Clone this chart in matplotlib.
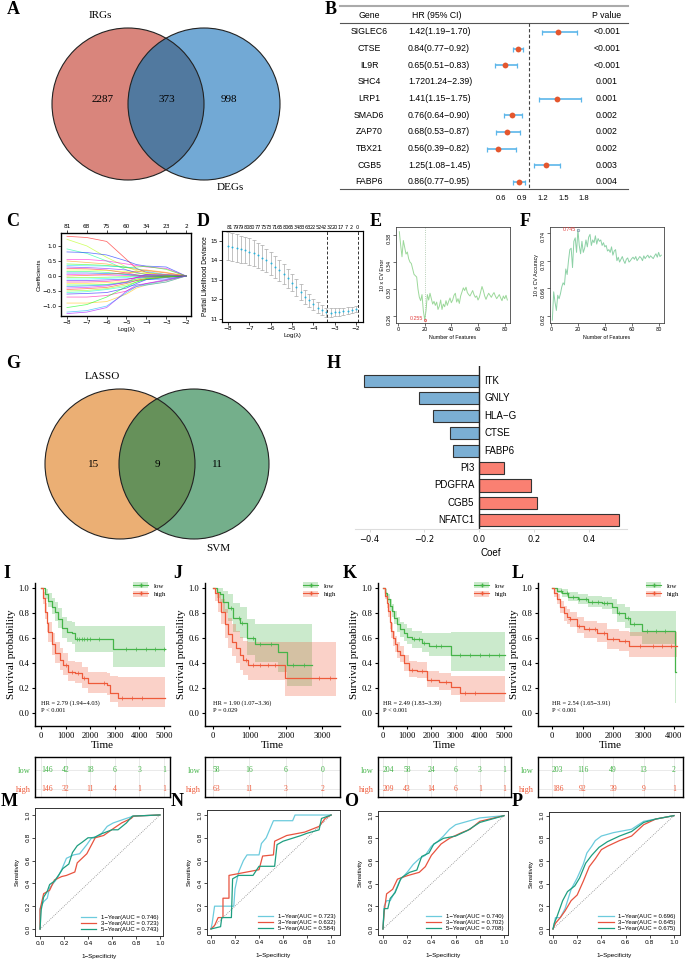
import numpy as np
import matplotlib
matplotlib.use("Agg")
import matplotlib.pyplot as plt
from matplotlib.patches import Circle, Patch
from matplotlib.lines import Line2D

W, H = 685, 964
SERIF = "Liberation Serif"
SANS = "Liberation Sans"

# ---------------- data ----------------
# A: venn
venn_a_names = ["IRGs", "DEGs"]
venn_a_counts = [2287, 373, 998]

# B: univariate cox
genes_b = ["SIGLEC6", "CTSE", "IL9R", "SHC4", "LRP1", "SMAD6", "ZAP70", "TBX21", "CGB5", "FABP6"]
hr_b = [1.42, 0.84, 0.65, 1.72, 1.41, 0.76, 0.68, 0.56, 1.25, 0.86]
lo_b = [1.19, 0.77, 0.51, 1.24, 1.15, 0.64, 0.53, 0.39, 1.08, 0.77]
hi_b = [1.70, 0.92, 0.83, 2.39, 1.75, 0.90, 0.87, 0.82, 1.45, 0.95]
hr_txt_b = ["1.42(1.19\u22121.70)", "0.84(0.77\u22120.92)", "0.65(0.51\u22120.83)", "1.7201.24\u22122.39)",
            "1.41(1.15\u22121.75)", "0.76(0.64\u22120.90)", "0.68(0.53\u22120.87)", "0.56(0.39\u22120.82)",
            "1.25(1.08\u22121.45)", "0.86(0.77\u22120.95)"]
p_b = ["<0.001", "<0.001", "<0.001", "0.001", "0.001", "0.002", "0.002", "0.002", "0.003", "0.004"]

# C: lasso coefficient paths
lam_c = [-8, -7, -6, -5, -4.5, -4, -3, -2]
coef_paths = [
    [1.32, 1.28, 1.15, 0.55, 0.25, 0.12, 0.04, 0],
    [1.22, 1.00, 0.62, 0.30, 0.18, 0.10, 0.03, 0],
    [0.90, 0.75, 0.50, 0.20, 0.10, 0.05, 0.02, 0],
    [0.80, 0.78, 0.70, 0.50, 0.38, 0.33, 0.30, 0],
    [0.55, 0.55, 0.50, 0.40, 0.35, 0.30, 0.25, 0],
    [0.50, 0.45, 0.40, 0.28, 0.22, 0.20, 0.12, 0],
    [0.40, 0.38, 0.35, 0.28, 0.30, 0.32, 0.22, 0],
    [0.35, 0.34, 0.33, 0.30, 0.25, 0.15, 0.05, 0],
    [0.30, 0.28, 0.25, 0.20, 0.12, 0.05, 0.00, 0],
    [0.25, 0.24, 0.20, 0.10, 0.04, 0.00, 0.00, 0],
    [0.20, 0.20, 0.18, 0.15, 0.10, 0.08, 0.05, 0],
    [0.15, 0.15, 0.12, 0.05, 0.00, 0.00, 0.00, 0],
    [0.10, 0.10, 0.08, 0.06, 0.03, 0.00, 0.00, 0],
    [0.05, 0.04, 0.03, 0.02, 0.01, 0.00, 0.00, 0],
    [0.00, 0.02, 0.05, 0.10, 0.15, 0.18, 0.10, 0],
    [-0.05, -0.05, -0.04, -0.02, 0.00, 0.00, 0.00, 0],
    [-0.10, -0.10, -0.08, -0.05, -0.02, 0.00, 0.00, 0],
    [-0.15, -0.15, -0.13, -0.10, -0.06, -0.04, -0.02, 0],
    [-0.20, -0.20, -0.18, -0.12, -0.05, 0.00, 0.00, 0],
    [-0.25, -0.25, -0.22, -0.18, -0.12, -0.10, -0.05, 0],
    [-0.30, -0.30, -0.28, -0.20, -0.10, -0.05, 0.00, 0],
    [-0.35, -0.33, -0.30, -0.22, -0.15, -0.12, -0.10, 0],
    [-0.40, -0.38, -0.33, -0.20, -0.05, 0.05, 0.05, 0],
    [-0.45, -0.42, -0.38, -0.25, -0.15, -0.08, -0.02, 0],
    [-0.50, -0.48, -0.42, -0.30, -0.20, -0.10, -0.03, 0],
    [-0.55, -0.52, -0.45, -0.35, -0.30, -0.28, -0.15, 0],
    [-0.60, -0.58, -0.55, -0.40, -0.25, -0.12, -0.05, 0],
    [-0.70, -0.70, -0.65, -0.50, -0.35, -0.25, -0.15, 0],
    [-0.90, -0.90, -0.85, -0.60, -0.40, -0.30, -0.20, 0],
    [-1.05, -0.95, -0.70, -0.35, -0.20, -0.10, -0.03, 0],
    [-1.20, -1.15, -1.00, -0.55, -0.35, -0.30, -0.20, 0],
    [-1.25, -1.20, -1.05, -0.50, -0.30, -0.25, -0.12, 0],
]
top_c_pos = [-8, -7, -6, -5, -4, -3, -2]
top_c_lab = ["81", "68", "75", "60", "34", "23", "2"]

# D: cross-validation deviance
lam_d = [-8.0, -7.8, -7.6, -7.4, -7.2, -7.0, -6.8, -6.6, -6.4, -6.2, -6.0, -5.8, -5.6, -5.4, -5.2, -5.0,
         -4.8, -4.6, -4.4, -4.2, -4.0, -3.8, -3.6, -3.4, -3.2, -3.0, -2.8, -2.6, -2.4, -2.2, -2.0]
dev_d = [14.72, 14.68, 14.63, 14.58, 14.52, 14.45, 14.36, 14.26, 14.14, 14.00, 13.85, 13.68, 13.50, 13.30,
         13.08, 12.86, 12.62, 12.38, 12.15, 11.95, 11.75, 11.58, 11.45, 11.36, 11.33, 11.34, 11.37, 11.40,
         11.43, 11.47, 11.50]
sd_d = [0.72, 0.71, 0.70, 0.69, 0.68, 0.67, 0.66, 0.64, 0.62, 0.60, 0.58, 0.56, 0.53, 0.50, 0.47, 0.45,
        0.42, 0.39, 0.36, 0.33, 0.30, 0.27, 0.25, 0.23, 0.22, 0.20, 0.19, 0.18, 0.17, 0.16, 0.16]
top_d_lab = ["81", "79", "79", "80", "80", "77", "75", "73", "71", "65", "80", "65", "34", "83", "63", "22",
             "52", "42", "32", "20", "17", "7", "2", "0"]
lam_min_d, lam_1se_d = -3.38, -1.9

# E / F: SVM-RFE
err_e = [0.385, 0.365, 0.348, 0.372, 0.362, 0.352, 0.355, 0.345, 0.340, 0.338,
         0.330, 0.322, 0.320, 0.318, 0.300, 0.288, 0.283, 0.292, 0.268, 0.255,
         0.268, 0.292, 0.284, 0.294, 0.286, 0.278, 0.282, 0.276, 0.281, 0.270,
         0.275, 0.284, 0.270, 0.278, 0.274, 0.283, 0.276, 0.282, 0.287, 0.280,
         0.284, 0.291, 0.294, 0.281, 0.286, 0.279, 0.290, 0.296, 0.302, 0.298,
         0.303, 0.295, 0.292, 0.290, 0.294, 0.298, 0.292, 0.288, 0.290, 0.284,
         0.288, 0.296, 0.304, 0.298, 0.290, 0.285, 0.290, 0.294, 0.291, 0.288,
         0.292, 0.295, 0.290, 0.286, 0.289, 0.292, 0.287, 0.283, 0.290, 0.286,
         0.291, 0.284]
acc_f = [0.614, 0.655, 0.640, 0.628, 0.650, 0.645, 0.652, 0.662, 0.668, 0.665,
         0.688, 0.680, 0.700, 0.716, 0.718, 0.690, 0.728, 0.733, 0.712, 0.745,
         0.722, 0.710, 0.728, 0.712, 0.718, 0.730, 0.720, 0.734, 0.738, 0.722,
         0.730, 0.726, 0.736, 0.724, 0.732, 0.728, 0.730, 0.722, 0.726, 0.720,
         0.722, 0.714, 0.716, 0.712, 0.720, 0.708, 0.714, 0.716, 0.700, 0.705,
         0.698, 0.702, 0.706, 0.700, 0.696, 0.702, 0.704, 0.698, 0.700, 0.703,
         0.705, 0.702, 0.706, 0.700, 0.703, 0.706, 0.704, 0.700, 0.707, 0.703,
         0.706, 0.708, 0.704, 0.707, 0.705, 0.703, 0.707, 0.710, 0.705, 0.712,
         0.706, 0.708]

# G: venn
venn_g_names = ["LASSO", "SVM"]
venn_g_counts = [15, 9, 11]

# H: coefficients
genes_h = ["ITK", "GNLY", "HLA\u2212G", "CTSE", "FABP6", "PI3", "PDGFRA", "CGB5", "NFATC1"]
coef_h = [-0.42, -0.22, -0.17, -0.107, -0.097, 0.09, 0.19, 0.21, 0.51]

# I-L: Kaplan-Meier
I_low_t = [0, 150, 300, 450, 570, 700, 840, 1040, 1250, 1380, 2940, 5040]
I_low_s = [1.0, 0.95, 0.90, 0.85, 0.81, 0.75, 0.68, 0.65, 0.64, 0.59, 0.51, 0.51]
I_low_lo = [1.0, 0.91, 0.85, 0.79, 0.74, 0.68, 0.60, 0.57, 0.55, 0.49, 0.37, 0.37]
I_low_hi = [1.0, 0.99, 0.96, 0.92, 0.89, 0.84, 0.77, 0.74, 0.73, 0.70, 0.70, 0.70]
I_low_cens = [1450, 1550, 1650, 1750, 1850, 2000, 2350, 3450, 3850, 4250, 4650, 5000]
I_high_t = [0, 80, 160, 230, 300, 430, 570, 770, 910, 1110, 1380, 1650, 1920, 2670, 2800, 3140, 5040]
I_high_s = [1.0, 0.92, 0.81, 0.72, 0.65, 0.55, 0.48, 0.43, 0.39, 0.33, 0.32, 0.28, 0.24, 0.23, 0.16, 0.12, 0.12]
I_high_lo = [1.0, 0.87, 0.75, 0.65, 0.57, 0.47, 0.40, 0.35, 0.31, 0.26, 0.24, 0.20, 0.16, 0.15, 0.09, 0.05, 0.05]
I_high_hi = [1.0, 0.97, 0.88, 0.80, 0.73, 0.64, 0.57, 0.52, 0.48, 0.42, 0.41, 0.37, 0.33, 0.32, 0.30, 0.29, 0.29]
I_high_cens = [1000, 1250, 1500, 1750, 2550, 3300, 3700, 4100]

J_low_t = [0, 100, 190, 280, 420, 560, 740, 920, 1150, 1790, 2020, 2700]
J_low_s = [1.0, 0.97, 0.95, 0.89, 0.84, 0.76, 0.72, 0.60, 0.55, 0.49, 0.39, 0.39]
J_low_lo = [1.0, 0.92, 0.88, 0.80, 0.74, 0.65, 0.60, 0.47, 0.41, 0.33, 0.22, 0.22]
J_low_hi = [1.0, 1.0, 1.0, 0.98, 0.95, 0.88, 0.85, 0.75, 0.71, 0.71, 0.71, 0.71]
J_low_cens = [500, 700, 800, 1100, 1300, 1600, 2200, 2500]
J_high_t = [0, 60, 140, 230, 320, 420, 510, 640, 740, 830, 960, 1970, 3380]
J_high_s = [1.0, 0.96, 0.89, 0.81, 0.71, 0.63, 0.57, 0.52, 0.47, 0.43, 0.39, 0.28, 0.28]
J_high_lo = [1.0, 0.90, 0.81, 0.71, 0.60, 0.52, 0.46, 0.40, 0.35, 0.31, 0.27, 0.14, 0.14]
J_high_hi = [1.0, 1.0, 0.97, 0.91, 0.83, 0.76, 0.71, 0.66, 0.61, 0.58, 0.57, 0.57, 0.57]
J_high_cens = [900, 1100, 1300, 1500, 1700, 2900, 3200]

K_low_t = [0, 100, 165, 270, 370, 470, 570, 700, 850, 1000, 1200, 1610, 1890, 2800, 5030]
K_low_s = [1.0, 0.96, 0.91, 0.86, 0.82, 0.76, 0.71, 0.67, 0.64, 0.61, 0.59, 0.56, 0.54, 0.47, 0.47]
K_low_lo = [1.0, 0.93, 0.88, 0.82, 0.77, 0.71, 0.65, 0.61, 0.58, 0.55, 0.52, 0.49, 0.46, 0.34, 0.34]
K_low_hi = [1.0, 0.99, 0.95, 0.91, 0.87, 0.82, 0.77, 0.73, 0.71, 0.68, 0.66, 0.64, 0.64, 0.65, 0.65]
K_low_cens = [1300, 1500, 1700, 2200, 2400, 3200, 3600, 4000, 4400, 4800]
K_high_t = [0, 80, 150, 210, 280, 340, 410, 480, 580, 690, 850, 1060, 1400, 1820, 2300, 2820, 3170, 5030]
K_high_s = [1.0, 0.94, 0.88, 0.82, 0.73, 0.66, 0.60, 0.55, 0.50, 0.47, 0.40, 0.35, 0.34, 0.27, 0.25, 0.21, 0.16, 0.16]
K_high_lo = [1.0, 0.91, 0.84, 0.77, 0.67, 0.60, 0.54, 0.49, 0.44, 0.41, 0.34, 0.29, 0.28, 0.21, 0.19, 0.15, 0.09, 0.09]
K_high_hi = [1.0, 0.97, 0.92, 0.87, 0.79, 0.72, 0.66, 0.62, 0.57, 0.54, 0.47, 0.42, 0.41, 0.34, 0.32, 0.30, 0.30, 0.30]
K_high_cens = [1200, 1600, 2000, 2600, 3400, 3800]

L_low_t = [0, 150, 320, 540, 860, 1190, 1630, 1960, 2120, 2390, 2560, 2940, 4030, 4060]
L_low_s = [1.0, 0.98, 0.96, 0.93, 0.91, 0.89, 0.88, 0.85, 0.80, 0.76, 0.71, 0.66, 0.33, 0.33]
L_low_lo = [1.0, 0.96, 0.93, 0.90, 0.87, 0.85, 0.83, 0.79, 0.73, 0.68, 0.62, 0.55, 0.08, 0.08]
L_low_hi = [1.0, 1.0, 0.99, 0.97, 0.95, 0.94, 0.93, 0.91, 0.87, 0.85, 0.82, 0.82, 0.82, 0.82]
L_low_cens = [300, 500, 700, 900, 1100, 1300, 1500, 1700, 1800, 2200, 2500, 2700, 3100, 3400, 3700]
L_high_t = [0, 80, 160, 270, 380, 490, 600, 820, 1050, 1490, 1810, 2200, 2520, 4090]
L_high_s = [1.0, 0.96, 0.91, 0.85, 0.80, 0.77, 0.75, 0.70, 0.67, 0.64, 0.59, 0.58, 0.54, 0.54]
L_high_lo = [1.0, 0.93, 0.87, 0.80, 0.74, 0.71, 0.69, 0.64, 0.60, 0.57, 0.51, 0.50, 0.45, 0.45]
L_high_hi = [1.0, 0.99, 0.95, 0.90, 0.86, 0.83, 0.81, 0.77, 0.74, 0.72, 0.67, 0.66, 0.65, 0.65]
L_high_cens = [600, 900, 1200, 1400, 1700, 2000, 2400, 2900, 3300, 3600, 3900]

hr_text = ["HR = 2.79 (1.94\u22124.03)", "HR = 1.90 (1.07\u22123.36)", "HR = 2.49 (1.83\u22123.39)", "HR = 2.54 (1.65\u22123.91)"]
p_text = ["P < 0.001", "P = 0.029", "P < 0.001", "P < 0.001"]

risk_times_I = [0, 1000, 2000, 3000, 4000, 5000]
risk_I_low = [146, 42, 18, 6, 3, 1]
risk_I_high = [146, 32, 11, 4, 1, 1]
risk_times_J = [0, 1000, 2000, 3000]
risk_J_low = [58, 16, 6, 0]
risk_J_high = [63, 11, 3, 2]
risk_times_K = [0, 1000, 2000, 3000, 4000, 5000]
risk_K_low = [204, 58, 24, 6, 3, 1]
risk_K_high = [209, 43, 14, 6, 1, 1]
risk_times_L = [0, 1000, 2000, 3000, 4000]
risk_L_low = [203, 116, 49, 13, 2]
risk_L_high = [186, 92, 39, 9, 1]

# M-P: time-dependent ROC
roc_M_1 = [(0, 0), (0, 0.18), (0.03, 0.24), (0.06, 0.27), (0.08, 0.36), (0.14, 0.44), (0.18, 0.52), (0.22, 0.62),
           (0.28, 0.65), (0.33, 0.66), (0.39, 0.74), (0.43, 0.80), (0.5, 0.82), (0.56, 0.9), (0.61, 0.93),
           (0.72, 0.97), (0.78, 0.99), (1, 1)]
roc_M_3 = [(0, 0), (0, 0.17), (0.03, 0.31), (0.08, 0.34), (0.12, 0.43), (0.18, 0.46), (0.22, 0.47), (0.29, 0.50),
           (0.31, 0.58), (0.35, 0.62), (0.39, 0.66), (0.46, 0.80), (0.53, 0.82), (0.61, 0.88), (0.68, 0.93),
           (0.76, 0.97), (0.78, 0.99), (1, 1)]
roc_M_5 = [(0, 0), (0.01, 0.17), (0.03, 0.28), (0.06, 0.33), (0.08, 0.39), (0.12, 0.42), (0.16, 0.48), (0.19, 0.53),
           (0.24, 0.57), (0.27, 0.67), (0.31, 0.73), (0.35, 0.76), (0.4, 0.80), (0.45, 0.80), (0.5, 0.83),
           (0.6, 0.87), (0.65, 0.87), (0.72, 0.93), (0.77, 0.99), (1, 1)]
roc_N_1 = [(0, 0), (0.01, 0.05), (0.03, 0.2), (0.19, 0.2), (0.2, 0.35), (0.23, 0.5), (0.27, 0.6), (0.3, 0.65),
           (0.4, 0.65), (0.42, 0.75), (0.46, 0.80), (0.5, 0.9), (0.52, 0.95), (0.68, 0.95), (0.7, 1.0), (1, 1)]
roc_N_3 = [(0, 0), (0.03, 0.03), (0.06, 0.1), (0.1, 0.1), (0.1, 0.27), (0.15, 0.27), (0.15, 0.47), (0.3, 0.5),
           (0.4, 0.52), (0.43, 0.64), (0.52, 0.65), (0.53, 0.77), (0.63, 0.82), (0.78, 0.85), (0.9, 0.9),
           (0.95, 0.97), (1, 1)]
roc_N_5 = [(0, 0), (0.08, 0.02), (0.09, 0.1), (0.17, 0.1), (0.18, 0.44), (0.23, 0.47), (0.35, 0.47), (0.4, 0.55),
           (0.53, 0.55), (0.55, 0.74), (0.6, 0.77), (0.75, 0.82), (0.8, 0.84), (0.9, 0.87), (0.92, 0.97), (1, 1)]
roc_O_1 = [(0, 0), (0.01, 0.2), (0.03, 0.25), (0.06, 0.25), (0.1, 0.33), (0.14, 0.43), (0.2, 0.5), (0.25, 0.57),
           (0.3, 0.62), (0.35, 0.65), (0.4, 0.73), (0.45, 0.77), (0.5, 0.82), (0.55, 0.88), (0.6, 0.92),
           (0.7, 0.95), (0.8, 0.98), (1, 1)]
roc_O_3 = [(0, 0), (0.01, 0.15), (0.03, 0.31), (0.08, 0.35), (0.12, 0.44), (0.2, 0.47), (0.3, 0.5), (0.35, 0.55),
           (0.4, 0.65), (0.48, 0.75), (0.55, 0.8), (0.65, 0.85), (0.72, 0.88), (0.8, 0.95), (1, 1)]
roc_O_5 = [(0, 0), (0.01, 0.18), (0.04, 0.18), (0.06, 0.27), (0.1, 0.32), (0.15, 0.45), (0.22, 0.5), (0.28, 0.52),
           (0.32, 0.64), (0.38, 0.67), (0.42, 0.75), (0.5, 0.8), (0.6, 0.82), (0.7, 0.87), (0.8, 0.94), (1, 1)]
roc_P_1 = [(0, 0), (0.01, 0.03), (0.02, 0.1), (0.06, 0.1), (0.1, 0.18), (0.15, 0.35), (0.2, 0.45), (0.25, 0.57),
           (0.28, 0.67), (0.32, 0.73), (0.35, 0.78), (0.4, 0.82), (0.5, 0.85), (0.65, 0.88), (0.75, 0.95),
           (0.9, 0.98), (1, 1)]
roc_P_3 = [(0, 0), (0.02, 0.05), (0.06, 0.1), (0.1, 0.16), (0.15, 0.25), (0.2, 0.3), (0.25, 0.42), (0.3, 0.55),
           (0.35, 0.62), (0.4, 0.7), (0.45, 0.73), (0.55, 0.78), (0.65, 0.82), (0.75, 0.92), (0.85, 0.97), (1, 1)]
roc_P_5 = [(0, 0), (0.01, 0.05), (0.03, 0.1), (0.08, 0.25), (0.12, 0.33), (0.18, 0.38), (0.22, 0.45), (0.27, 0.58),
           (0.32, 0.65), (0.38, 0.72), (0.45, 0.77), (0.55, 0.82), (0.65, 0.86), (0.75, 0.94), (0.85, 0.97), (1, 1)]
auc_M = ["0.746", "0.723", "0.743"]
auc_N = ["0.723", "0.632", "0.584"]
auc_O = ["0.740", "0.702", "0.708"]
auc_P = ["0.696", "0.645", "0.675"]
roc_years = ["1\u2212Year", "3\u2212Year", "5\u2212Year"]

# ---------------- helpers ----------------
GREEN, RED = "#45B449", "#EE5A3A"
ROC_COLS = ["#6CCBDD", "#E8533F", "#1E9E80"]


def box(x0, y0, x1, y1):
    return [x0 / W, 1 - y1 / H, (x1 - x0) / W, (y1 - y0) / H]


def letter(x, y, s):
    fig.text(x / W, 1 - y / H, s, fontsize=13, fontweight="bold", family=SERIF, ha="center", va="center")


def venn(rect_px, centers, r, cols, names, name_pos, counts, count_pos, fs):
    ax = fig.add_axes(box(*rect_px))
    ax.set_xlim(rect_px[0], rect_px[2])
    ax.set_ylim(rect_px[3], rect_px[1])
    ax.axis("off")
    cl = Circle(centers[0], r, fc=cols[0], ec="none")
    cr = Circle(centers[1], r, fc=cols[1], ec="none")
    ov = Circle(centers[1], r, fc=cols[2], ec="none")
    for c in (cl, cr, ov):
        ax.add_patch(c)
    ov.set_clip_path(cl)
    for c in centers:
        ax.add_patch(Circle(c, r, fill=False, ec="#222222", lw=0.8))
    for n, p in zip(names, name_pos):
        ax.text(p[0], p[1], n, family=SERIF, fontsize=fs, ha="center", va="center")
    for n, p in zip(counts, count_pos):
        ax.text(p[0], p[1], str(n), family=SERIF, fontsize=fs, ha="center", va="center")


fig = plt.figure(figsize=(W / 100, H / 100), dpi=100)

# ---------------- A ----------------
venn((0, 0, 290, 195), [(128, 104), (204, 104)], 76, ["#D9857C", "#72A9D5", "#51799F"],
     venn_a_names, [(100, 15), (230, 188)], venn_a_counts, [(103, 100), (167, 100), (229, 100)], 8)
letter(13, 9, "A")

# ---------------- B ----------------
ylim_b = (9.42, -1.92)
axt = fig.add_axes(box(340, 0, 630, 189))
axt.set_xlim(340, 630)
axt.set_ylim(*ylim_b)
axt.axis("off")
axt.plot([340, 628], [-1.56, -1.56], color="#AAAAAA", lw=1.5, clip_on=False)
axt.plot([340, 628], [-0.54, -0.54], color="#555555", lw=0.8, clip_on=False)
axt.plot([340, 628], [9.42, 9.42], color="#555555", lw=0.8, clip_on=False)
axt.text(369, -1.0, "Gene", fontsize=6.3, family=SANS, ha="center", va="center")
axt.text(437, -1.0, "HR (95% CI)", fontsize=6.3, family=SANS, ha="center", va="center")
axt.text(607, -1.0, "P value", fontsize=6.3, family=SANS, ha="center", va="center")
for i, g in enumerate(genes_b):
    axt.text(369, i, g, fontsize=6.3, family=SANS, ha="center", va="center")
    axt.text(408, i, hr_txt_b[i], fontsize=6.3, family=SANS, ha="left", va="center")
    axt.text(607, i, p_b[i], fontsize=6.3, family=SANS, ha="center", va="center")

axf = fig.add_axes(box(484, 0, 591, 189))
axf.patch.set_visible(False)
axf.set_xlim(0.35, 1.9)
axf.set_ylim(*ylim_b)
for s in axf.spines.values():
    s.set_visible(False)
axf.set_yticks([])
axf.set_xticks([0.6, 0.9, 1.2, 1.5, 1.8])
axf.set_xticklabels(["0.6", "0.9", "1.2", "1.5", "1.8"], fontsize=5.5, family=SANS)
axf.tick_params(axis="x", length=0, pad=4)
axf.plot([1, 1], [-0.54, 9.42], ls=(0, (3, 2)), color="#444444", lw=0.8)
for i in range(len(genes_b)):
    if hi_b[i] > 1.9:
        continue
    axf.errorbar(hr_b[i], i, xerr=[[hr_b[i] - lo_b[i]], [hi_b[i] - hr_b[i]]], fmt="none",
                 ecolor="#5CB6EA", elinewidth=1.2, capsize=1.8, capthick=0.9)
    axf.plot(hr_b[i], i, "o", color="#E4572E", ms=4.2, mec="none")
letter(331, 9, "B")

# ---------------- C ----------------
axc = fig.add_axes(box(61, 233, 191, 316))
cmap = plt.cm.hsv
for k, path in enumerate(coef_paths):
    axc.plot(lam_c, path, color=cmap((k * 7 % len(coef_paths)) / len(coef_paths)), lw=0.55, alpha=0.6)
axc.set_xlim(-8.3, -1.75)
axc.set_ylim(-1.33, 1.43)
axc.set_xticks([-8, -7, -6, -5, -4, -3, -2])
axc.set_yticks([-1.0, -0.5, 0.0, 0.5, 1.0])
axc.tick_params(labelsize=4.2, length=2, width=0.5, pad=1)
axc.set_ylabel("Coefficients", fontsize=4.5, family=SANS, labelpad=1)
axc.set_xlabel("Log(\u03bb)", fontsize=4.5, family=SANS, labelpad=1)
for s in axc.spines.values():
    s.set_linewidth(1.0)
    s.set_color("#555555")
axc2 = axc.twiny()
axc2.set_xlim(axc.get_xlim())
axc2.set_xticks(top_c_pos)
axc2.set_xticklabels(top_c_lab)
axc2.tick_params(labelsize=4.2, length=2, width=0.5, pad=1)
letter(13, 222, "C")

# ---------------- D ----------------
axd = fig.add_axes(box(222, 231, 363, 322))
axd.errorbar(lam_d, dev_d, yerr=sd_d, fmt="none", ecolor="#AAAAAA", elinewidth=0.5, capsize=1.2, capthick=0.5)
axd.plot(lam_d, dev_d, "o", color="#27B3DD", ms=1.4, mec="none")
axd.axvline(lam_min_d, ls=(0, (3, 2)), color="#333333", lw=0.7)
axd.axvline(lam_1se_d, ls=(0, (3, 2)), color="#333333", lw=0.7)
axd.set_xlim(-8.28, -1.68)
axd.set_ylim(10.85, 15.5)
axd.set_xticks([-8, -7, -6, -5, -4, -3, -2])
axd.set_yticks([11, 12, 13, 14, 15])
axd.tick_params(labelsize=4.2, length=2, width=0.5, pad=1)
axd.set_ylabel("Partial Likelihood Deviance", fontsize=4.8, family=SANS, labelpad=1)
axd.set_xlabel("Log(\u03bb)", fontsize=4.5, family=SANS, labelpad=1)
for s in axd.spines.values():
    s.set_color("#555555")
axd2 = axd.twiny()
axd2.set_xlim(axd.get_xlim())
axd2.set_xticks(np.linspace(-7.9, -1.95, len(top_d_lab)))
axd2.set_xticklabels(top_d_lab)
axd2.tick_params(labelsize=3.6, length=0, pad=1)
letter(203, 222, "D")

# ---------------- E ----------------
feat = np.arange(1, len(err_e) + 1)
axe = fig.add_axes(box(396, 227, 510, 323))
axe.plot(feat, err_e, color="#9CD89A", lw=0.7)
best_e = int(np.argmin(err_e))
axe.axvline(feat[best_e], ls=":", color="#9FBF9F", lw=0.6)
axe.plot(feat[best_e], err_e[best_e], "o", mfc="none", mec="#E24040", ms=1.6, mew=0.5)
axe.text(feat[best_e] - 1.5, err_e[best_e] + 0.001, "%.3f" % err_e[best_e], color="#E24040",
         fontsize=3.8, ha="right", va="center", family=SANS)
axe.set_xlim(-1.5, 84)
axe.set_ylim(0.25, 0.392)
axe.set_xticks([0, 20, 40, 60, 80])
axe.set_yticks([0.26, 0.30, 0.34, 0.38])
axe.tick_params(labelsize=3.6, length=2, width=0.4, pad=1)
axe.tick_params(axis="y", labelrotation=90)
axe.set_xlabel("Number of Features", fontsize=3.8, family=SANS, labelpad=2)
axe.set_ylabel("10 x CV Error", fontsize=3.8, family=SANS, labelpad=1)
for s in axe.spines.values():
    s.set_linewidth(0.6)
    s.set_color("#444444")
letter(376, 222, "E")

# ---------------- F ----------------
axF = fig.add_axes(box(550, 227, 664, 323))
axF.plot(feat, acc_f, color="#8DD1A6", lw=0.7)
best_f = int(np.argmax(acc_f))
axF.plot(feat[best_f], acc_f[best_f], "o", mfc="none", mec="#7A8FA8", ms=1.8, mew=0.5)
axF.text(feat[best_f] - 1.5, acc_f[best_f], "%.3f" % acc_f[best_f], color="#E24040",
         fontsize=3.8, ha="right", va="center", family=SANS)
axF.set_xlim(-0.74, 84)
axF.set_ylim(0.6099, 0.7487)
axF.set_xticks([0, 20, 40, 60, 80])
axF.set_yticks([0.62, 0.66, 0.70, 0.74])
axF.tick_params(labelsize=3.6, length=2, width=0.4, pad=1)
axF.tick_params(axis="y", labelrotation=90)
axF.set_xlabel("Number of Features", fontsize=3.8, family=SANS, labelpad=2)
axF.set_ylabel("10 x CV Accuracy", fontsize=3.8, family=SANS, labelpad=1)
for s in axF.spines.values():
    s.set_linewidth(0.6)
    s.set_color("#444444")
letter(525, 221, "F")

# ---------------- G ----------------
venn((0, 340, 290, 555), [(120, 464), (194, 464)], 75, ["#EBAF74", "#74AF8B", "#66915A"],
     venn_g_names, [(102, 377), (218, 549)], venn_g_counts, [(94, 465), (157, 465), (217, 465)], 8)
letter(13, 363, "G")

# ---------------- H ----------------
axh = fig.add_axes(box(355, 366, 627, 529))
ypos = np.arange(len(genes_h))
cols_h = ["#7BAFD4" if v < 0 else "#FA8072" for v in coef_h]
axh.barh(ypos, coef_h, height=0.7, color=cols_h, edgecolor="#333333", lw=0.8)
axh.axvline(0, color="#222222", lw=1.0)
for i, (g, v) in enumerate(zip(genes_h, coef_h)):
    if v < 0:
        axh.text(0.018, i, g, ha="left", va="center", fontsize=7, family=SANS)
    else:
        axh.text(-0.018, i, g, ha="right", va="center", fontsize=7, family=SANS)
axh.set_xlim(-0.453, 0.54)
axh.set_ylim(8.5, -0.86)
axh.set_yticks([])
axh.set_xticks([-0.4, -0.2, 0.0, 0.2, 0.4])
axh.set_xticklabels(["\u22120.4", "\u22120.2", "0.0", "0.2", "0.4"])
axh.tick_params(axis="x", labelsize=6, length=2, width=0.5, color="#CCCCCC", pad=2)
for k in ("top", "right", "left"):
    axh.spines[k].set_visible(False)
axh.spines["bottom"].set_color("#DDDDDD")
axh.set_xlabel("Coef", fontsize=7, family=SANS, labelpad=3)
letter(334, 363, "H")


# ---------------- I-L ----------------
def step_at(t, s, c):
    idx = np.searchsorted(t, c, side="right") - 1
    return np.array(s)[idx]


def km_panel(xpx, xlim, xticks, low, high, hr, p, rtimes, rlow, rhigh):
    ax = fig.add_axes(box(xpx[0], 583, xpx[1], 726))
    for (t, s, lo, hi, cens), col in ((low, GREEN), (high, RED)):
        ax.fill_between(t, lo, hi, step="post", color=col, alpha=0.28, lw=0)
        ax.step(t, s, where="post", color=col, lw=0.9)
        ax.plot(cens, step_at(t, s, cens), "+", color=col, ms=2.5, mew=0.5)
    ax.set_xlim(*xlim)
    ax.set_ylim(-0.1, 1.04)
    ax.set_xticks(xticks)
    ax.set_yticks([0, 0.2, 0.4, 0.6, 0.8, 1.0])
    ax.set_yticklabels(["0.0", "0.2", "0.4", "0.6", "0.8", "1.0"])
    ax.tick_params(labelsize=6.2, length=2.5, width=0.8, pad=1.5)
    for lab in ax.get_xticklabels() + ax.get_yticklabels():
        lab.set_family(SERIF)
    for k in ("top", "right"):
        ax.spines[k].set_visible(False)
    for k in ("left", "bottom"):
        ax.spines[k].set_linewidth(1.0)
    ax.set_ylabel("Survival probability", fontsize=8, family=SERIF, labelpad=2)
    ax.set_xlabel("Time", fontsize=8, family=SERIF, labelpad=1)
    ax.text(0, 0.08, hr, fontsize=4.6, family=SERIF, ha="left", va="center")
    ax.text(0, 0.025, p, fontsize=4.6, family=SERIF, ha="left", va="center")
    handles = [(Patch(fc=GREEN, alpha=0.28, ec="none"), Line2D([], [], color=GREEN, lw=0.8, marker="+", ms=2.5)),
               (Patch(fc=RED, alpha=0.28, ec="none"), Line2D([], [], color=RED, lw=0.8, marker="+", ms=2.5))]
    ax.legend(handles, ["low", "high"], loc="upper right", frameon=False,
              prop={"family": SERIF, "size": 5}, handlelength=2.2, handleheight=1.0,
              labelspacing=0.3, borderaxespad=0.1, bbox_to_anchor=(1.0, 1.03))

    # risk table under the curves, same time scale
    axr = fig.add_axes(box(xpx[0], 757, xpx[1], 797))
    axr.set_xlim(*xlim)
    axr.set_ylim(-0.42, 1.685)
    axr.set_xticks(rtimes)
    axr.set_xticklabels([])
    axr.set_yticks([1, 0])
    axr.set_yticklabels(["low", "high"], fontsize=6, family=SERIF)
    axr.get_yticklabels()[0].set_color(GREEN)
    axr.get_yticklabels()[1].set_color(RED)
    axr.tick_params(length=0, pad=3)
    axr.grid(color="#E6E6E6", lw=0.6)
    for s in axr.spines.values():
        s.set_linewidth(1.0)
    for k, (t, a, b) in enumerate(zip(rtimes, rlow, rhigh)):
        ha = "left" if k == 0 else "center"
        axr.text(t, 1, str(a), color=GREEN, fontsize=5.5, family=SERIF, ha=ha, va="center")
        axr.text(t, 0, str(b), color=RED, fontsize=5.5, family=SERIF, ha=ha, va="center")


km_panel((35, 170), (-244, 5244), risk_times_I,
         (I_low_t, I_low_s, I_low_lo, I_low_hi, I_low_cens), (I_high_t, I_high_s, I_high_lo, I_high_hi, I_high_cens),
         hr_text[0], p_text[0], risk_times_I, risk_I_low, risk_I_high)
km_panel((205, 340), (-219, 3480), risk_times_J,
         (J_low_t, J_low_s, J_low_lo, J_low_hi, J_low_cens), (J_high_t, J_high_s, J_high_lo, J_high_hi, J_high_cens),
         hr_text[1], p_text[1], risk_times_J, risk_J_low, risk_J_high)
km_panel((378, 511), (-207, 5290), risk_times_K,
         (K_low_t, K_low_s, K_low_lo, K_low_hi, K_low_cens), (K_high_t, K_high_s, K_high_lo, K_high_hi, K_high_cens),
         hr_text[2], p_text[2], risk_times_K, risk_K_low, risk_K_high)
km_panel((538, 683), (-459, 4295), risk_times_L,
         (L_low_t, L_low_s, L_low_lo, L_low_hi, L_low_cens), (L_high_t, L_high_s, L_high_lo, L_high_hi, L_high_cens),
         hr_text[3], p_text[3], risk_times_L, risk_L_low, risk_L_high)
letter(7, 574, "I")
letter(178, 574, "J")
letter(350, 574, "K")
letter(518, 574, "L")


# ---------------- M-P ----------------
def roc_panel(bpx, xlim, ylim, curves, aucs):
    ax = fig.add_axes(box(*bpx))
    ax.plot([0, 1], [0, 1], ls=(0, (1, 1.5)), color="#888888", lw=0.6)
    for pts, col, auc, yr in zip(curves, ROC_COLS, aucs, roc_years):
        x, y = zip(*pts)
        ax.plot(x, y, color=col, lw=0.9, label="%s(AUC = %s)" % (yr, auc))
    ax.set_xlim(*xlim)
    ax.set_ylim(*ylim)
    ticks = [0, 0.2, 0.4, 0.6, 0.8, 1.0]
    lbl = ["0.0", "0.2", "0.4", "0.6", "0.8", "1.0"]
    ax.set_xticks(ticks)
    ax.set_xticklabels(lbl)
    ax.set_yticks(ticks)
    ax.set_yticklabels(lbl, rotation=90, va="center")
    ax.tick_params(labelsize=4.3, length=2, width=0.5, pad=1.5)
    for s in ax.spines.values():
        s.set_linewidth(0.7)
        s.set_color("#333333")
    ax.set_xlabel("1\u2212Specificity", fontsize=4.5, family=SANS, labelpad=6)
    ax.set_ylabel("Sensitivity", fontsize=4.5, family=SANS, labelpad=4)
    ax.legend(loc="lower right", frameon=False, prop={"family": SANS, "size": 4.3}, handlelength=2.6,
              labelspacing=0.15, borderaxespad=0.3)


roc_panel((35, 808, 163, 936), (-0.042, 1.025), (-0.061, 1.061), [roc_M_1, roc_M_3, roc_M_5], auc_M)
roc_panel((207, 810, 340, 935), (-0.033, 1.074), (-0.053, 1.044), [roc_N_1, roc_N_3, roc_N_5], auc_N)
roc_panel((378, 811, 508, 935), (-0.041, 1.033), (-0.053, 1.041), [roc_O_1, roc_O_3, roc_O_5], auc_O)
roc_panel((549, 812, 680, 935), (-0.033, 1.050), (-0.053, 1.032), [roc_P_1, roc_P_3, roc_P_5], auc_P)
letter(9, 801, "M")
letter(177, 801, "N")
letter(351, 801, "O")
letter(517, 801, "P")

fig.savefig("out.png", dpi=100)
